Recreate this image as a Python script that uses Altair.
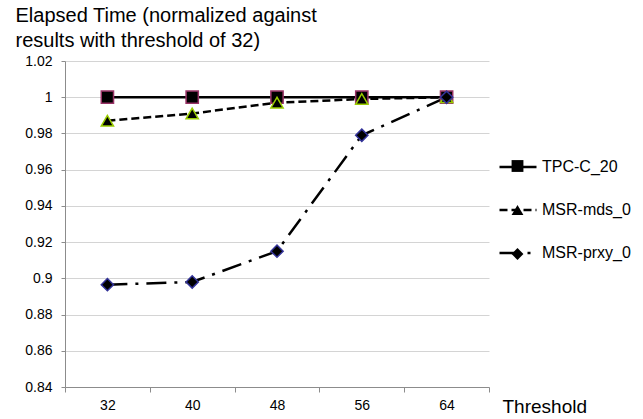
import altair as alt
import pandas as pd

thresholds = ["32", "40", "48", "56", "64"]
series_names = ["TPC-C_20", "MSR-mds_0", "MSR-prxy_0"]
tpc_c_20 = [1.0, 1.0, 1.0, 1.0, 1.0]
msr_mds_0 = [0.987, 0.991, 0.997, 0.999, 1.0]
msr_prxy_0 = [0.8965, 0.898, 0.915, 0.979, 1.0]
y_ticks = [0.84, 0.86, 0.88, 0.9, 0.92, 0.94, 0.96, 0.98, 1.0, 1.02]

marker_shapes = ["square", "triangle-up", "diamond"]
marker_strokes = ["#993366", "#99CC00", "#333399"]
dash_styles = [[1, 0], [8, 4], [20, 8, 3, 8]]

rows = []
for name, vals in zip(series_names, [tpc_c_20, msr_mds_0, msr_prxy_0]):
    for t, v in zip(thresholds, vals):
        rows.append({"threshold": t, "value": v, "series": name})
df = pd.DataFrame(rows)

FONT = "Liberation Sans"

x_enc = alt.X(
    "threshold:N",
    sort=thresholds,
    scale=alt.Scale(paddingInner=0, paddingOuter=0),
    axis=alt.Axis(
        title="Threshold",
        titleFont=FONT,
        titleFontSize=19,
        titleFontWeight="normal",
        titleColor="black",
        titleAngle=0,
        titleAlign="left",
        titleBaseline="alphabetic",
        titleX=437,
        titleY=25,
        labelAngle=0,
        labelFont=FONT,
        labelFontSize=14,
        labelColor="black",
        labelPadding=6,
        tickBand="extent",
        tickSize=5,
        tickColor="#8c8c8c",
        domainColor="#8c8c8c",
        grid=False,
    ),
)

y_enc = alt.Y(
    "value:Q",
    scale=alt.Scale(domain=[0.84, 1.02], nice=False, zero=False),
    axis=alt.Axis(
        values=y_ticks,
        format=".2~f",
        labelOverlap=False,
        title=["Elapsed Time (normalized against", "results with threshold of 32)"],
        titleFont=FONT,
        titleFontSize=20,
        titleFontWeight="normal",
        titleColor="black",
        titleAngle=0,
        titleAlign="left",
        titleBaseline="alphabetic",
        titleLineHeight=25,
        titleX=-50,
        titleY=-40,
        labelFont=FONT,
        labelFontSize=14,
        labelColor="black",
        labelPadding=9,
        tickSize=4,
        tickColor="#8c8c8c",
        domainColor="#8c8c8c",
        gridColor="#d4d4d4",
        gridWidth=1,
    ),
)

base = alt.Chart(df).encode(x=x_enc, y=y_enc)

lines = base.mark_line(strokeWidth=2.5, color="black").encode(
    strokeDash=alt.StrokeDash(
        "series:N",
        sort=series_names,
        scale=alt.Scale(domain=series_names, range=dash_styles),
        legend=alt.Legend(
            title=None,
            orient="none",
            legendX=433,
            legendY=86,
            symbolType="stroke",
            symbolSize=1369,
            symbolStrokeWidth=2.5,
            symbolStrokeColor="black",
            labelFont=FONT,
            labelFontSize=16,
            labelColor="black",
            labelOffset=4,
            rowPadding=15,
        ),
    ),
)

point_layers = []
for i, (name, shp, col) in enumerate(zip(series_names, marker_shapes, marker_strokes)):
    layer = (
        base.transform_filter(alt.datum.series == name)
        .mark_point(filled=False, fill="black", fillOpacity=1, stroke=col,
                    strokeWidth=1.5, size=150, opacity=1)
        .encode(
            shape=alt.Shape(
                "series:N",
                scale=alt.Scale(domain=[name], range=[shp]),
                legend=alt.Legend(
                    title=None,
                    orient="none",
                    legendX=445.5,
                    legendY=98 + 44 * i,
                    symbolSize=140,
                    symbolFillColor="black",
                    symbolStrokeColor=col,
                    symbolStrokeWidth=1.5,
                    labelExpr="''",
                ),
            )
        )
    )
    point_layers.append(layer)

chart = (
    alt.layer(lines, *point_layers)
    .resolve_scale(shape="independent")
    .resolve_legend(shape="independent")
    .properties(
        width=424,
        height=326,
        autosize=alt.AutoSizeParams(type="none"),
        padding={"left": 65, "top": 61, "right": 154, "bottom": 32},
        background="white",
    )
    .configure_view(stroke=None)
)

chart.save("out.html", embed_options={"renderer": "svg", "actions": False})
